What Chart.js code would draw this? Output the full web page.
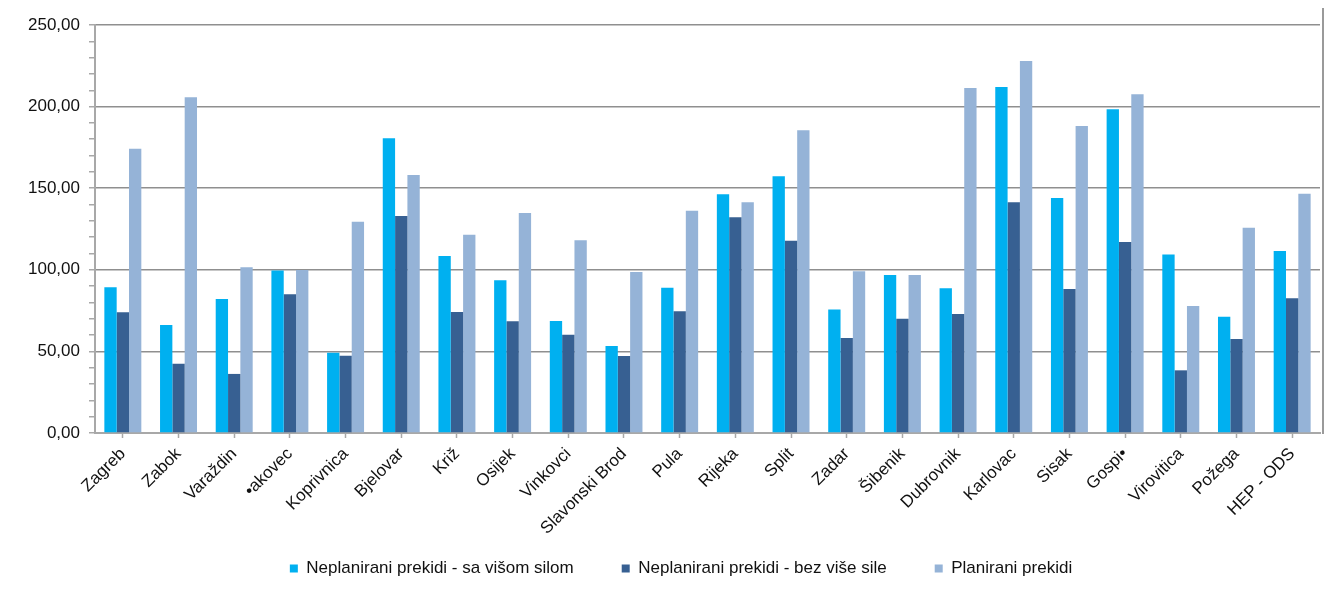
<!DOCTYPE html>
<html>
<head>
<meta charset="utf-8">
<title>Prekidi po distribucijskim područjima</title>
<script src="https://cdn.jsdelivr.net/npm/chart.js@4.4.1/dist/chart.umd.min.js"></script>
<style>
  html, body { margin: 0; padding: 0; background: #fff; }
  #wrap { position: relative; width: 1329px; height: 599px; }
</style>
</head>
<body>
<div id="wrap"><canvas id="prekidiChart"></canvas></div>
<script>
const areas = [
  "Zagreb", "Zabok", "Varaždin", "•akovec", "Koprivnica", "Bjelovar", "Križ",
  "Osijek", "Vinkovci", "Slavonski Brod", "Pula", "Rijeka", "Split", "Zadar",
  "Šibenik", "Dubrovnik", "Karlovac", "Sisak", "Gospi•", "Virovitica",
  "Požega", "HEP - ODS"
];

// Neplanirani prekidi - sa višom silom
const unplannedForce = [
  89.3, 66.2, 82.1, 99.5, 49.2, 180.6, 108.5, 93.6, 68.6, 53.3, 89.0,
  146.3, 157.3, 75.6, 96.8, 88.7, 212.0, 144.0, 198.3, 109.3, 71.3, 111.5
];

// Neplanirani prekidi - bez više sile
const unplannedNoForce = [
  74.0, 42.5, 36.2, 85.0, 47.4, 133.0, 74.1, 68.4, 60.2, 47.2, 74.6,
  132.2, 117.8, 58.2, 70.0, 72.9, 141.4, 88.2, 117.0, 38.4, 57.6, 82.5
];

// Planirani prekidi
const planned = [
  174.2, 205.7, 101.5, 99.9, 129.5, 158.1, 121.5, 134.8, 118.1, 98.7, 136.2,
  141.4, 185.5, 99.1, 96.8, 211.4, 227.9, 188.1, 207.5, 77.8, 125.8, 146.6
];

const seriesNames = [
  "Neplanirani prekidi - sa višom silom",
  "Neplanirani prekidi - bez više sile",
  "Planirani prekidi"
];

const yMin = 0;
const yMax = 250;
const yMajorStep = 50;
const yMinorStep = 10;

const FONT = "'Liberation Sans', Arial, sans-serif";
const GRID = "#8f8f8f";
const AXIS = "#a8a8a8";

function formatDecimal(value) {
  return Number(value).toFixed(2).replace(".", ",");
}

// thin frame line on the right side of the plot
const frameLine = {
  id: "frameLine",
  afterDraw(chart) {
    const { ctx, chartArea } = chart;
    ctx.save();
    ctx.strokeStyle = "#9a9a9a";
    ctx.lineWidth = 2;
    ctx.beginPath();
    ctx.moveTo(chartArea.right + 3, 8);
    ctx.lineTo(chartArea.right + 3, chartArea.bottom + 1);
    ctx.stroke();
    ctx.restore();
  }
};

// the wide legend padding makes the box tall, so pull the row up
// into the space under the rotated labels and nudge it right
const legendShift = {
  id: "legendShift",
  afterLayout(chart) {
    const lg = chart.legend;
    if (lg) {
      lg.left += 21;
      lg.right += 21;
      lg.top -= 33;
      lg.bottom -= 33;
    }
  }
};

const ctx = document.getElementById("prekidiChart").getContext("2d");

const config = {
  type: "bar",
  data: {
    labels: areas,
    datasets: [
      { label: seriesNames[0], data: unplannedForce, backgroundColor: "#00B0F0" },
      { label: seriesNames[1], data: unplannedNoForce, backgroundColor: "#376092" },
      { label: seriesNames[2], data: planned, backgroundColor: "#95B3D7" }
    ]
  },
  options: {
    responsive: true,
    maintainAspectRatio: false,
    animation: false,
    datasets: {
      bar: {
        categoryPercentage: 0.664,
        barPercentage: 1.0
      }
    },
    layout: {
      padding: { top: 25, left: 0, right: 9, bottom: -21 }
    },
    scales: {
      x: {
        grid: {
          offset: false,
          drawOnChartArea: false,
          drawTicks: true,
          tickLength: 5,
          tickColor: AXIS,
          tickWidth: 1.5
        },
        border: { color: AXIS, width: 2 },
        ticks: {
          autoSkip: false,
          minRotation: 45,
          maxRotation: 45,
          padding: 6,
          color: "#111",
          font: { family: FONT, size: 17 }
        },
        afterFit: (scale) => {
          scale.height = 112;
        }
      },
      y: {
        min: yMin,
        max: yMax,
        grid: {
          color: (c) => (c.tick && c.tick.value % yMajorStep === 0 ? GRID : "rgba(0,0,0,0)"),
          tickColor: AXIS,
          lineWidth: 1.5,
          tickWidth: 1.5,
          tickLength: 6
        },
        border: { color: AXIS, width: 2 },
        ticks: {
          stepSize: yMinorStep,
          autoSkip: false,
          maxTicksLimit: 40,
          padding: 9,
          color: "#111",
          font: { family: FONT, size: 17 },
          callback: (value) => (value % yMajorStep === 0 ? formatDecimal(value) : "")
        },
        afterFit: (scale) => {
          scale.width = 95;
        }
      }
    },
    plugins: {
      legend: {
        position: "bottom",
        labels: {
          boxWidth: 8,
          boxHeight: 8,
          padding: 48,
          color: "#111",
          font: { family: FONT, size: 17 }
        }
      },
      tooltip: {
        callbacks: {
          label: function (context) {
            return context.dataset.label + ": " + formatDecimal(context.raw);
          }
        }
      }
    }
  },
  plugins: [frameLine, legendShift]
};

window.prekidiChartInstance = new Chart(ctx, config);
</script>
</body>
</html>
